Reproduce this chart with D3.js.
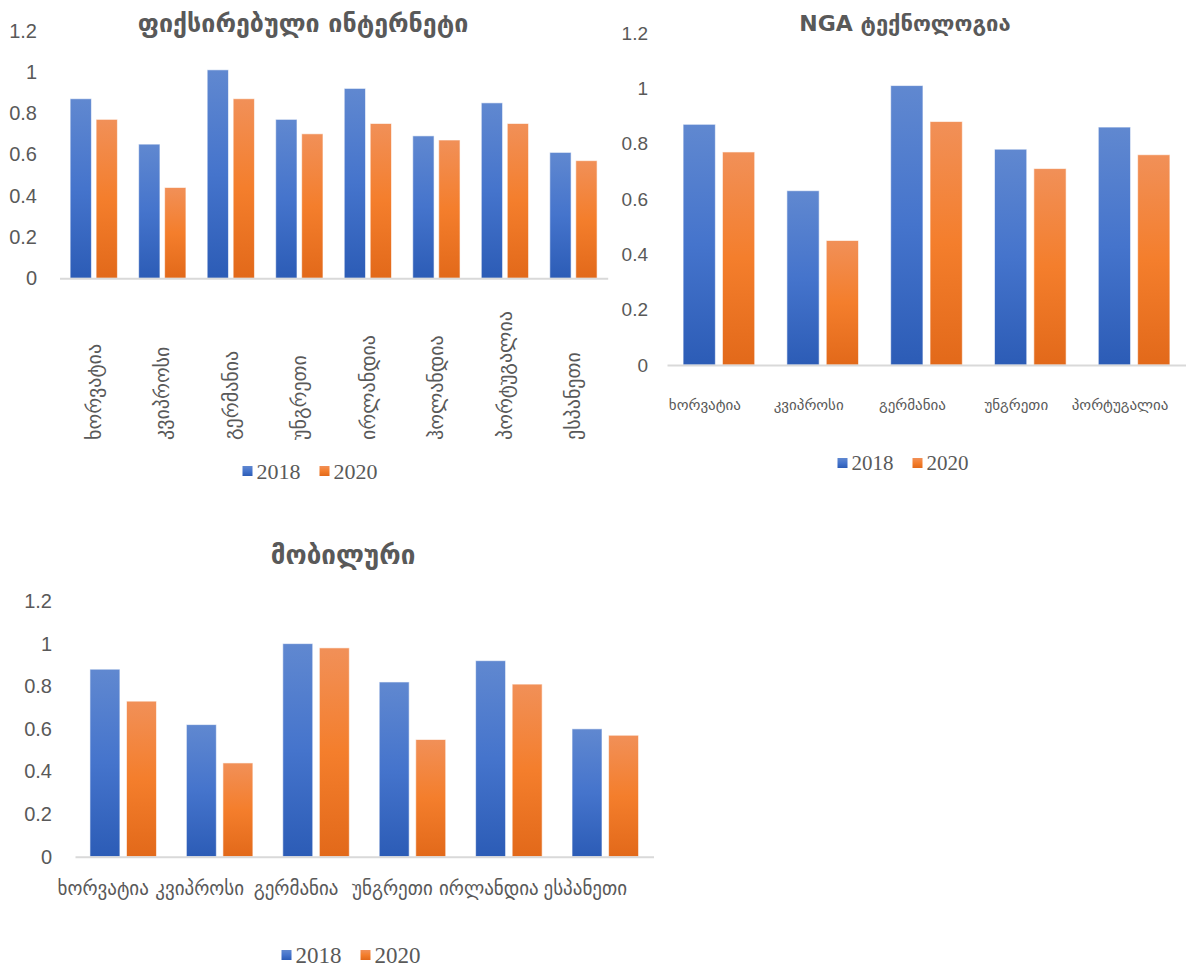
<!DOCTYPE html>
<html>
<head>
<meta charset="utf-8">
<script src="https://cdn.jsdelivr.net/npm/d3@7"></script>
<style>
  body { margin: 0; background: #fff; }
  svg { display: block; }
</style>
</head>
<body>
<div id="wrapper"></div>
<script>
// DATA
const series = ["2018", "2020"]
const yTicks = [0, 0.2, 0.4, 0.6, 0.8, 1, 1.2]

const fixedCategories = ["ხორვატია", "კვიპროსი", "გერმანია", "უნგრეთი", "ირლანდია", "ჰოლანდია", "პორტუგალია", "ესპანეთი"]
const fixed2018 = [0.87, 0.65, 1.01, 0.77, 0.92, 0.69, 0.85, 0.61]
const fixed2020 = [0.77, 0.44, 0.87, 0.70, 0.75, 0.67, 0.75, 0.57]

const ngaCategories = ["ხორვატია", "კვიპროსი", "გერმანია", "უნგრეთი", "პორტუგალია"]
const nga2018 = [0.87, 0.63, 1.01, 0.78, 0.86]
const nga2020 = [0.77, 0.45, 0.88, 0.71, 0.76]

const mobileCategories = ["ხორვატია", "კვიპროსი", "გერმანია", "უნგრეთი", "ირლანდია", "ესპანეთი"]
const mobile2018 = [0.88, 0.62, 1.00, 0.82, 0.92, 0.60]
const mobile2020 = [0.73, 0.44, 0.98, 0.55, 0.81, 0.57]

// CANVAS
const wrapper = d3.select("#wrapper")
  .append("svg")
  .attr("width", 1186)
  .attr("height", 972)

const textGrey = "#595959"
const geoFont = "'DejaVu Sans', sans-serif"

// gradients like the office "gradient fill"
const defs = wrapper.append("defs")
const gradients = {
  "2018": ["#6088d0", "#4574cc", "#2c5cb6"],
  "2020": ["#f19058", "#f47e2c", "#e2691a"]
}
series.forEach(s => {
  const g = defs.append("linearGradient")
    .attr("id", "grad" + s)
    .attr("x1", 0).attr("x2", 0).attr("y1", 0).attr("y2", 1)
  g.append("stop").attr("offset", "0%").attr("stop-color", gradients[s][0])
  g.append("stop").attr("offset", "50%").attr("stop-color", gradients[s][1])
  g.append("stop").attr("offset", "100%").attr("stop-color", gradients[s][2])
})

const drawChart = cfg => {
  const data = cfg.categories.map((c, i) => ({
    category: c,
    values: [cfg.a[i], cfg.b[i]]
  }))

  const bounds = wrapper.append("g")

  // SCALES
  const xScale = d3.scaleBand()
    .domain(cfg.categories)
    .range(cfg.xRange)
    .paddingInner(0.31)
    .paddingOuter(0.155)

  const xInner = d3.scaleBand()
    .domain(series)
    .range([0, xScale.bandwidth()])
    .paddingInner(0.18)

  const yScale = d3.scaleLinear()
    .domain([0, 1.2])
    .range([cfg.y0, cfg.yTop])

  // BARS
  const groups = bounds.selectAll(".grp")
    .data(data)
    .join("g")
    .attr("transform", d => `translate(${xScale(d.category)},0)`)

  groups.selectAll("rect")
    .data(d => d.values.map((v, i) => ({ key: series[i], value: v })))
    .join("rect")
    .attr("x", d => xInner(d.key))
    .attr("y", d => yScale(d.value))
    .attr("width", xInner.bandwidth())
    .attr("height", d => yScale(0) - yScale(d.value))
    .attr("fill", d => `url(#grad${d.key})`)
    .attr("stroke", "#ffffff")
    .attr("stroke-opacity", 0.6)
    .attr("stroke-width", 1)

  // BASE LINE
  const xAxis = bounds.append("g")
    .attr("transform", `translate(0,${yScale(0)})`)
    .call(d3.axisBottom(xScale).tickSize(0).tickFormat(""))
  xAxis.select(".domain").attr("stroke", "#d9d9d9").attr("stroke-width", 2)

  // Y AXIS
  const yAxis = bounds.append("g")
    .attr("transform", `translate(${cfg.tickRight},0)`)
    .call(d3.axisLeft(yScale).tickValues(yTicks).tickSize(0).tickPadding(0)
      .tickFormat(d => String(+d.toFixed(1))))
  yAxis.select(".domain").remove()
  yAxis.selectAll("text")
    .attr("fill", textGrey)
    .style("font-family", "'Liberation Sans', sans-serif")
    .style("font-size", cfg.tickSize + "px")

  // CATEGORY LABELS
  if (cfg.rotate) {
    bounds.selectAll(".cat")
      .data(cfg.categories)
      .join("text")
      .attr("transform", d => `translate(${xScale(d) + xScale.bandwidth() / 2 + cfg.labelSize * 0.35},${cfg.labelY}) rotate(-90)`)
      .attr("text-anchor", "start")
      .attr("fill", textGrey)
      .style("font-family", geoFont)
      .style("font-size", cfg.labelSize + "px")
      .text(d => d)
  } else {
    bounds.selectAll(".cat")
      .data(cfg.categories)
      .join("text")
      .attr("x", d => xScale(d) + xScale.bandwidth() / 2 + cfg.labelDx)
      .attr("y", cfg.labelY)
      .attr("dy", "0.35em")
      .attr("text-anchor", "middle")
      .attr("fill", textGrey)
      .style("font-family", geoFont)
      .style("font-size", cfg.labelSize + "px")
      .text(d => d)
  }

  // TITLE
  bounds.append("text")
    .attr("x", cfg.titleX)
    .attr("y", cfg.titleY)
    .attr("dy", "0.35em")
    .attr("text-anchor", "middle")
    .attr("fill", textGrey)
    .style("font-family", geoFont)
    .style("font-weight", "bold")
    .style("font-size", cfg.titleSize + "px")
    .text(cfg.title)

  // LEGEND
  const legend = bounds.append("g")
  let cursor = 0
  series.forEach(s => {
    const item = legend.append("g").attr("transform", `translate(${cursor},0)`)
    item.append("rect")
      .attr("x", 0).attr("y", -5)
      .attr("width", 10).attr("height", 10)
      .attr("fill", `url(#grad${s})`)
    const t = item.append("text")
      .attr("x", 14)
      .attr("dy", "0.35em")
      .attr("fill", textGrey)
      .style("font-family", "'Liberation Serif', serif")
      .style("font-size", cfg.legendSize + "px")
      .text(s)
    cursor += 14 + t.node().getComputedTextLength() + 19
  })
  const legendWidth = cursor - 19
  legend.attr("transform", `translate(${cfg.legendX - legendWidth / 2},${cfg.legendY})`)
}

drawChart({
  title: "ფიქსირებული ინტერნეტი",
  categories: fixedCategories, a: fixed2018, b: fixed2020,
  xRange: [59.5, 607.7], y0: 278.3, yTop: 30.6, tickRight: 37, tickSize: 20,
  rotate: true, labelY: 440, labelSize: 20,
  titleX: 303, titleY: 23, titleSize: 25,
  legendX: 310, legendY: 471, legendSize: 22
})

drawChart({
  title: "NGA ტექნოლოგია",
  categories: ngaCategories, a: nga2018, b: nga2020,
  xRange: [667, 1186], y0: 365, yTop: 33, tickRight: 648, tickSize: 19,
  rotate: false, labelY: 405, labelDx: -14, labelSize: 15,
  titleX: 905, titleY: 23, titleSize: 22,
  legendX: 903, legendY: 463, legendSize: 21
})

drawChart({
  title: "მობილური",
  categories: mobileCategories, a: mobile2018, b: mobile2020,
  xRange: [75, 653.5], y0: 856.7, yTop: 601, tickRight: 52, tickSize: 20,
  rotate: false, labelY: 888, labelDx: -20, labelSize: 19,
  titleX: 343, titleY: 555, titleSize: 26,
  legendX: 351, legendY: 955, legendSize: 23
})
</script>
</body>
</html>
